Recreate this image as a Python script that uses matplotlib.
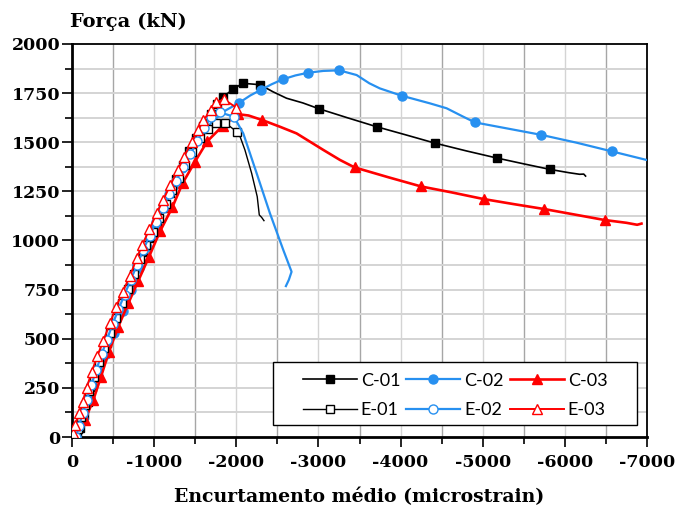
import matplotlib
matplotlib.use("Agg")
import matplotlib.pyplot as plt
from matplotlib.patches import Rectangle
from matplotlib.ticker import MultipleLocator, FuncFormatter

# ---- data: average shortening (microstrain) vs. force (kN) ----
c01_strain = [-60, -95, -140, -190, -245, -305, -365, -430, -500, -570, -645, -720, -795, -870,
              -950, -1030, -1110, -1190, -1270, -1350, -1430, -1515, -1600, -1690, -1760, -1834,
              -1963, -2077, -2288, -2446, -2612, -2811, -3002, -3350, -3708, -4060, -4414, -4800,
              -5169, -5500, -5817, -6050, -6180, -6230, -6252]
c01_force = [0, 45, 110, 180, 255, 330, 405, 480, 560, 640, 715, 790, 865, 940,
             1015, 1090, 1165, 1240, 1315, 1385, 1455, 1520, 1585, 1645, 1695, 1730,
             1770, 1800, 1793, 1757, 1724, 1700, 1671, 1625, 1579, 1538, 1496, 1456,
             1420, 1390, 1362, 1345, 1337, 1338, 1328]
c01_marks = list(range(0, 29)) + [32, 34, 36, 38, 40]

c02_strain = [-45, -130, -225, -320, -415, -515, -615, -715, -815, -915, -1015, -1120, -1225,
              -1335, -1450, -1580, -1720, -1870, -2036, -2170, -2296, -2430, -2564, -2720,
              -2876, -3060, -3253, -3465, -3620, -3748, -4012, -4357, -4560, -4763, -4905,
              -5300, -5708, -6140, -6568, -6994]
c02_force = [0, 90, 200, 310, 420, 530, 640, 750, 860, 965, 1070, 1175, 1275,
             1370, 1460, 1545, 1610, 1662, 1701, 1738, 1766, 1795, 1820, 1840,
             1854, 1863, 1866, 1842, 1800, 1774, 1737, 1698, 1673, 1630, 1601,
             1570, 1538, 1498, 1454, 1410]
c02_marks = list(range(0, 15)) + [18, 20, 22, 24, 26, 30, 34, 36, 38]

c03_strain = [-49, -158, -259, -353, -450, -563, -685, -807, -935, -1071, -1220, -1347, -1493,
              -1647, -1834, -2020, -2150, -2316, -2531, -2734, -3059, -3262, -3440, -3850,
              -4250, -4620, -5010, -5380, -5750, -6120, -6487, -6750, -6880, -6933]
c03_force = [15, 86, 188, 307, 434, 561, 680, 795, 915, 1046, 1168, 1292, 1398,
             1505, 1583, 1643, 1636, 1613, 1579, 1545, 1461, 1410, 1372, 1322,
             1275, 1245, 1211, 1185, 1160, 1132, 1104, 1090, 1080, 1086]
c03_marks = list(range(0, 16)) + [17, 22, 24, 26, 28, 30]

e01_strain = [-50, -75, -115, -160, -210, -265, -325, -390, -460, -530, -605, -680, -755, -830,
              -905, -980, -1060, -1140, -1220, -1300, -1380, -1465, -1558, -1659, -1749, -1862,
              -2004, -2045, -2105, -2187, -2255, -2280, -2308, -2337]
e01_force = [0, 40, 100, 165, 235, 305, 380, 455, 530, 605, 680, 755, 830, 905,
             975, 1045, 1115, 1185, 1255, 1320, 1385, 1450, 1520, 1565, 1596, 1600,
             1554, 1530, 1461, 1342, 1223, 1130, 1118, 1101]
e01_marks = list(range(0, 27))

e02_strain = [-45, -85, -130, -180, -235, -295, -360, -425, -495, -565, -640, -715, -790, -865,
              -945, -1025, -1105, -1185, -1270, -1355, -1440, -1525, -1610, -1691, -1801, -1971,
              -2085, -2248, -2410, -2572, -2673, -2640, -2604]
e02_force = [0, 55, 120, 190, 265, 340, 420, 495, 575, 650, 725, 800, 875, 950,
             1025, 1095, 1165, 1235, 1305, 1375, 1440, 1505, 1570, 1630, 1652, 1630,
             1545, 1342, 1138, 952, 841, 800, 768]
e02_marks = list(range(0, 26))

e03_strain = [-16, -37, -89, -130, -179, -240, -308, -381, -462, -535, -617, -706, -787, -858,
              -941, -1031, -1112, -1199, -1288, -1361, -1457, -1534, -1598, -1694, -1755, -1850,
              -2000]
e03_force = [19, 61, 120, 180, 251, 332, 412, 490, 579, 660, 739, 819, 909, 979,
             1057, 1138, 1208, 1284, 1357, 1426, 1500, 1562, 1611, 1666, 1703, 1719,
             1676]
e03_marks = list(range(0, 27))

x_ticks = [0, -1000, -2000, -3000, -4000, -5000, -6000, -7000]
y_ticks = [0, 250, 500, 750, 1000, 1250, 1500, 1750, 2000]

BLACK = "#000000"
BLUE = "#2790F0"
RED = "#FF0000"

plt.rcParams["axes.unicode_minus"] = False
plt.rcParams["font.family"] = ["DejaVu Serif"]
plt.rcParams["font.weight"] = "bold"

fig = plt.figure(figsize=(6.75, 5.11), dpi=100)
ax = fig.add_axes([72 / 675, 1 - 437 / 511, (647 - 72) / 675, (437 - 44) / 511])

# grid: half-thousand verticals darker, thousand verticals lighter, horizontals light
for xv in range(-500, -7000, -1000):
    ax.axvline(xv, color="#a6a6a6", lw=1.0, zorder=0)
for xv in range(-1000, -7000, -1000):
    ax.axvline(xv, color="#d4d4d4", lw=1.0, zorder=0)
for yv in range(125, 2000, 125):
    ax.axhline(yv, color="#d4d4d4", lw=1.4, zorder=0)

series = [
    ("C-01", c01_strain, c01_force, c01_marks, BLACK, "s", BLACK, 1.2, 6.0),
    ("C-02", c02_strain, c02_force, c02_marks, BLUE, "o", BLUE, 1.6, 6.5),
    ("C-03", c03_strain, c03_force, c03_marks, RED, "^", RED, 1.9, 7.0),
    ("E-01", e01_strain, e01_force, e01_marks, BLACK, "s", "white", 1.0, 6.0),
    ("E-02", e02_strain, e02_force, e02_marks, BLUE, "o", "white", 1.6, 6.5),
    ("E-03", e03_strain, e03_force, e03_marks, RED, "^", "white", 1.4, 7.0),
]
handles = {}
for name, xs, ys, marks, col, mk, face, lw, ms in series:
    (h,) = ax.plot(xs, ys, color=col, lw=lw, marker=mk, markersize=ms,
                   markerfacecolor=face, markeredgecolor=col, markeredgewidth=1.0,
                   markevery=marks, label=name, zorder=3)
    handles[name] = h

ax.set_xlim(0, -7000)
ax.set_ylim(0, 2000)
ax.set_xticks(x_ticks)
ax.set_yticks(y_ticks)
ax.xaxis.set_minor_locator(MultipleLocator(500))
ax.yaxis.set_minor_locator(MultipleLocator(125))
ax.xaxis.set_major_formatter(FuncFormatter(lambda v, p: f"{int(round(v))}"))
ax.tick_params(axis="both", which="major", direction="out", length=7, width=1.2,
               labelsize=12.5)
ax.tick_params(axis="y", which="major", pad=1.5)
ax.tick_params(axis="x", which="major", pad=5)
ax.tick_params(axis="both", which="minor", direction="out", length=5, width=1.2)

for side in ["left", "bottom"]:
    ax.spines[side].set_linewidth(2.0)
for side in ["top", "right"]:
    ax.spines[side].set_linewidth(1.3)

ax.set_xlabel("Encurtamento médio (microstrain)", fontsize=13.6, fontweight="bold",
              labelpad=12)
fig.text(70 / 675, 1 - 22 / 511, "Força (kN)", fontsize=14, fontweight="bold",
         ha="left", va="center")

# legend: entries in a 3 x 2 grid inside a plain rectangular frame
order = ["C-01", "E-01", "C-02", "E-02", "C-03", "E-03"]
leg = ax.legend([handles[n] for n in order], order, ncol=3, loc="center",
                bbox_to_anchor=((455 - 72) / 575, (437 - 395.5) / 393), frameon=False,
                handlelength=3.0, handletextpad=0.22, columnspacing=0.33,
                borderpad=0.0, labelspacing=0.75,
                prop={"family": "Lato", "size": 13, "weight": "normal"})
leg.set_zorder(6)
frame = Rectangle(((273 - 72) / 575, (437 - 425) / 393), (637 - 273) / 575, 63 / 393,
                  transform=ax.transAxes, facecolor="white", edgecolor="black",
                  lw=1.0, zorder=5)
ax.add_patch(frame)

fig.savefig("out.png", dpi=100)
